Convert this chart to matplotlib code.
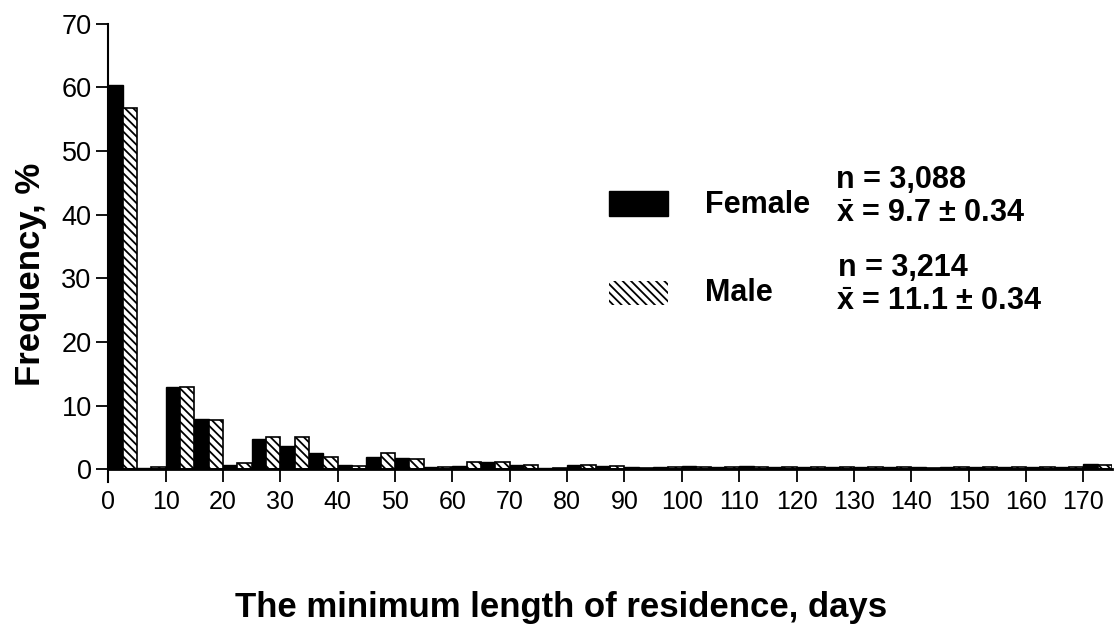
import matplotlib
matplotlib.use("Agg")
import matplotlib.pyplot as plt
from matplotlib.patches import Rectangle

plt.rcParams['font.family'] = ['Liberation Sans', 'DejaVu Sans']
plt.rcParams['mathtext.fontset'] = 'custom'
plt.rcParams['mathtext.rm'] = 'Liberation Sans'
plt.rcParams['mathtext.bf'] = 'Liberation Sans:bold'
plt.rcParams['hatch.linewidth'] = 1.3

# 5-day bins of minimum residence length (left edge, days)
bin_start = [0, 5, 10, 15, 20, 25, 30, 35, 40, 45, 50, 55, 60, 65, 70, 75, 80, 85,
             90, 95, 100, 105, 110, 115, 120, 125, 130, 135, 140, 145, 150, 155,
             160, 165, 170]
female = [60.3, 0.2, 12.9, 7.9, 0.6, 4.7, 3.6, 2.6, 0.6, 2.0, 1.7, 0.3, 0.5, 1.2,
          0.7, 0.25, 0.6, 0.5, 0.3, 0.3, 0.45, 0.35, 0.45, 0.3, 0.35, 0.35, 0.35,
          0.3, 0.3, 0.3, 0.35, 0.4, 0.35, 0.4, 0.8]
male = [56.7, 0.3, 13.0, 7.8, 1.0, 5.0, 5.1, 1.9, 0.5, 2.5, 1.6, 0.3, 1.2, 1.2,
        0.7, 0.25, 0.65, 0.5, 0.25, 0.3, 0.3, 0.4, 0.3, 0.3, 0.3, 0.35, 0.3,
        0.3, 0.25, 0.3, 0.4, 0.35, 0.4, 0.35, 0.6]
xticks = list(range(0, 171, 10))
yticks = list(range(0, 71, 10))

W, H = 1115, 626
fig = plt.figure(figsize=(W / 100, H / 100), dpi=100)
ax = fig.add_axes([108.3 / W, (H - 469.3) / H, (1112 - 108.3) / W, (469.3 - 23.6) / H])

bw = 2.5
hatch = '\\\\\\\\'
ax.bar([b for b in bin_start], female, width=bw, align='edge',
       color='black', edgecolor='black', linewidth=1)
ax.bar([b + bw for b in bin_start], male, width=bw, align='edge',
       color='white', edgecolor='black', hatch=hatch, linewidth=1.2)

ax.set_xlim(0, 175)
ax.set_ylim(0, 70)
ax.set_xticks(xticks)
ax.set_yticks(yticks)
ax.tick_params(axis='x', direction='out', length=9, width=1.3, pad=6, labelsize=18)
ax.tick_params(axis='y', direction='out', length=9, width=1.3, pad=3, labelsize=19.5)
ax.spines['top'].set_visible(False)
ax.spines['right'].set_visible(False)
ax.spines['bottom'].set_linewidth(2)
ax.spines['left'].set_linewidth(1.5)
ax.spines['left'].set_bounds(-2, 70)

def px(x, y):
    return x / W, 1 - y / H

fig.text(*px(31, 274), 'Frequency, %', rotation=90, fontsize=25, fontweight='bold',
         ha='center', va='center')
fig.text(*px(561, 608), 'The minimum length of residence, days', fontsize=25,
         fontweight='bold', ha='center', va='center')

# legend drawn by hand
fig.add_artist(Rectangle(px(609, 216), 59 / W, 25 / H, transform=fig.transFigure,
                         facecolor='black', edgecolor='black'))
fig.add_artist(Rectangle(px(609, 305), 59 / W, 24 / H, transform=fig.transFigure,
                         facecolor='white', edgecolor='black', linewidth=0, hatch=hatch))
fs = 22
fig.text(*px(705, 205), 'Female', fontsize=fs, fontweight='bold', va='center')
fig.text(*px(705, 293), 'Male', fontsize=fs, fontweight='bold', va='center')
fig.text(*px(836, 180), 'n = 3,088', fontsize=fs, fontweight='bold', va='center')
fig.text(*px(836, 214), r'$\bar{\mathbf{x}}$ = 9.7 ± 0.34', fontsize=fs,
         fontweight='bold', va='center')
fig.text(*px(838, 268), 'n = 3,214', fontsize=fs, fontweight='bold', va='center')
fig.text(*px(836, 302), r'$\bar{\mathbf{x}}$ = 11.1 ± 0.34', fontsize=fs,
         fontweight='bold', va='center')

fig.savefig('out.png', dpi=100)
